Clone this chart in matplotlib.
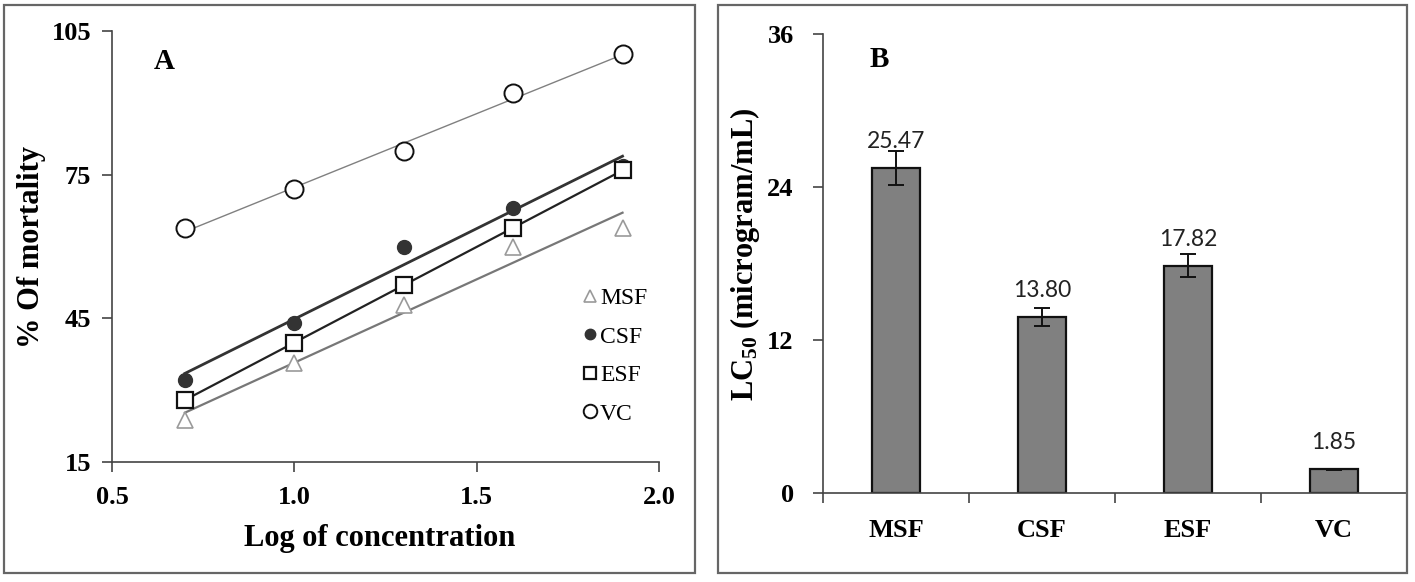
import numpy as np
import matplotlib
matplotlib.use("Agg")
import matplotlib.pyplot as plt
from matplotlib.patches import Rectangle

# panel A: % mortality vs log concentration
log_conc = [0.7, 1.0, 1.3, 1.6, 1.9]
msf = [23.8, 35.6, 47.8, 59.8, 63.9]
csf = [32.1, 44.1, 59.8, 68.1, 76.8]
esf = [28.0, 39.8, 52.0, 63.9, 75.9]
vc = [63.9, 72.0, 79.9, 92.0, 100.1]

# panel B: LC50 values
groups = ["MSF", "CSF", "ESF", "VC"]
lc50 = [25.47, 13.80, 17.82, 1.85]
lc50_err = [1.35, 0.73, 0.9, 0.05]

serif = "Liberation Serif"
plt.rcParams["mathtext.fontset"] = "custom"
plt.rcParams["mathtext.rm"] = "Liberation Serif:bold"
plt.rcParams["mathtext.bf"] = "Liberation Serif:bold"
plt.rcParams["mathtext.default"] = "rm"

fig = plt.figure(figsize=(14.15, 5.82), dpi=100)

# outer frames around each panel
for x0, x1 in [(4, 695), (718, 1407)]:
    fig.patches.append(Rectangle((x0 / 1415, 1 - 573 / 582), (x1 - x0) / 1415, (573 - 5) / 582,
                                 transform=fig.transFigure, fill=False, ec="#666666", lw=1.6))

# ---------------- panel A ----------------
axA = fig.add_axes([112 / 1415, 1 - 462 / 582, (659 - 112) / 1415, (462 - 31) / 582])

series = [
    ("MSF", msf, dict(marker="^", mfc="white", mec="#9a9a9a", ms=11, mew=1.2), dict(color="#777777", lw=1.6)),
    ("CSF", csf, dict(marker="o", mfc="#333333", mec="#333333", ms=10, mew=1.0), dict(color="#333333", lw=2.0)),
    ("ESF", esf, dict(marker="s", mfc="white", mec="#111111", ms=12, mew=1.6), dict(color="#222222", lw=1.6)),
    ("VC", vc, dict(marker="o", mfc="white", mec="#111111", ms=13, mew=1.4), dict(color="#808080", lw=1.0)),
]

x = np.array(log_conc)
for name, ys, mk, ln in series:
    k, b = np.polyfit(x, ys, 1)
    xx = np.array([x.min(), x.max()])
    axA.plot(xx, k * xx + b, zorder=2, **ln)
for name, ys, mk, ln in series:
    axA.plot(x, ys, linestyle="none", label=name, zorder=3, **mk)

axA.set_xlim(0.5, 2.0)
axA.set_ylim(15, 105)
axA.set_xticks([0.5, 1.0, 1.5, 2.0])
axA.set_xticklabels(["0.5", "1.0", "1.5", "2.0"])
axA.set_yticks([15, 45, 75, 105])

axA.set_xlabel("Log of concentration", fontfamily=serif, fontweight="bold", fontsize=22)
axA.xaxis.set_label_coords(0.49, -0.145)
axA.set_ylabel("% Of mortality", fontfamily=serif, fontweight="bold", fontsize=22)
axA.yaxis.set_label_coords(-0.12, 0.5)

axA.text(0.077, 0.912, "A", transform=axA.transAxes, fontfamily=serif, fontweight="bold",
         fontsize=21, va="baseline")

leg = axA.legend(loc="upper left", bbox_to_anchor=(0.86, 0.405), frameon=False,
                 prop={"family": serif, "size": 17}, markerscale=0.75, handlelength=0.6,
                 handletextpad=0.15, labelspacing=0.72, borderpad=0, borderaxespad=0)

# ---------------- panel B ----------------
axB = fig.add_axes([823 / 1415, 1 - 493 / 582, (1407 - 823) / 1415, (493 - 34) / 582])

pos = np.arange(len(groups))
axB.bar(pos, lc50, width=0.33, color="#808080", edgecolor="#111111", linewidth=1.6, zorder=2)
axB.errorbar(pos, lc50, yerr=lc50_err, fmt="none", ecolor="#111111", elinewidth=1.4,
             capsize=6, capthick=1.4, zorder=3)
for p, v in zip(pos, lc50):
    axB.annotate(f"{v:.2f}", (p, v), xytext=(0, 14.5), textcoords="offset points",
                 ha="center", va="baseline", fontfamily="Lato", fontsize=16.5, color="#222222")

axB.set_xlim(-0.5, 3.5)
axB.set_ylim(0, 36)
axB.set_yticks([0, 12, 24, 36])
axB.set_xticks(pos)
axB.set_xticklabels(groups)
axB.set_xticks([-0.5, 0.5, 1.5, 2.5], minor=True)
axB.tick_params(axis="x", which="minor", length=7, width=1.2, color="#444444", direction="out")

axB.set_ylabel(r"LC$_{50}$ (microgram/mL)", fontfamily=serif, fontweight="bold", fontsize=22)
axB.yaxis.set_label_coords(-0.104, 0.52)

axB.text(0.08, 0.928, "B", transform=axB.transAxes, fontfamily=serif, fontweight="bold",
         fontsize=21, va="baseline")

for ax in (axA, axB):
    for s in ("top", "right"):
        ax.spines[s].set_visible(False)
    for s in ("left", "bottom"):
        ax.spines[s].set_color("#444444")
        ax.spines[s].set_linewidth(1.2)
    ax.tick_params(which="major", direction="out", length=7, width=1.2, color="#444444",
                   labelsize=19)
    ax.tick_params(axis="y", pad=8)
    for lab in ax.get_xticklabels() + ax.get_yticklabels():
        lab.set_fontfamily(serif)
        lab.set_fontweight("bold")
axA.tick_params(axis="x", pad=10)
axB.tick_params(axis="y", pad=14)
axB.tick_params(axis="x", which="major", length=0, pad=19)

fig.savefig("out.png", dpi=100)
